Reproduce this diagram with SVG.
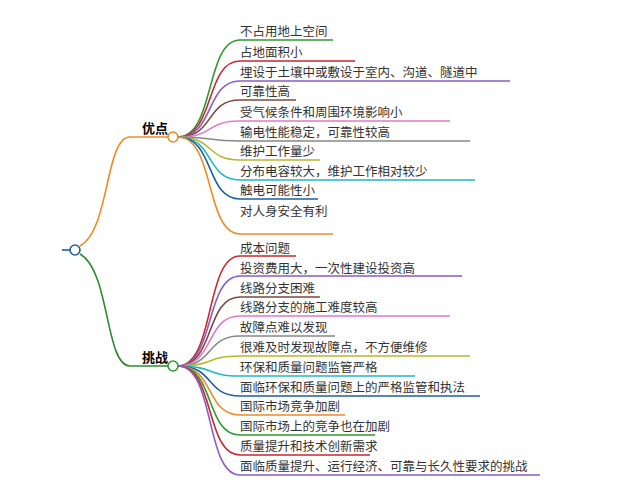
<svg xmlns="http://www.w3.org/2000/svg" width="631" height="500" viewBox="0 0 631 500">
<style>
text{font-family:"Noto Sans CJK SC","Liberation Sans",sans-serif;font-size:12.5px;fill:#333}
.b{font-weight:bold;fill:#000;font-size:13px}
path{fill:none;stroke-width:1.6}
circle{fill:#fff;stroke-width:1.6}
</style>
<rect width="631" height="500" fill="#fff"/>
<g id="connectors">
<path d="M62,250H70" stroke="#1f5fa0" stroke-width="3"/>
<path d="M80,246C110,230 105,137 130,137H168" stroke="#f08a24"/>
<path d="M80,254C110,270 105,366 130,366H168" stroke="#2e8b2e"/>
<path d="M178,137C215,137 205,40 240,40H333" stroke="#2e9b2e"/>
<path d="M178,137C215,137 205,61 240,61H355" stroke="#c8282e"/>
<path d="M178,137C215,137 205,81 240,81H510" stroke="#8a5cc4"/>
<path d="M178,137C215,137 205,100 240,100H296" stroke="#7a4a3c"/>
<path d="M178,137C215,137 205,121 240,121H450" stroke="#e07ac8"/>
<path d="M178,137C215,137 205,141 240,141H470" stroke="#888"/>
<path d="M178,137C215,137 205,160 240,160H320" stroke="#b8b830"/>
<path d="M178,137C215,137 205,180 240,180H475" stroke="#20b8c8"/>
<path d="M178,137C215,137 205,199 240,199H318" stroke="#1f5fa0"/>
<path d="M178,137C215,137 205,234 240,234H333" stroke="#f08a24"/>
<path d="M178,366C215,366 205,256 240,256H296" stroke="#c8282e"/>
<path d="M178,366C215,366 205,276 240,276H462" stroke="#8a5cc4"/>
<path d="M178,366C215,366 205,297 240,297H320" stroke="#7a4a3c"/>
<path d="M178,366C215,366 205,316 240,316H450" stroke="#e07ac8"/>
<path d="M178,366C215,366 205,336 240,336H335" stroke="#888"/>
<path d="M178,366C215,366 205,356 240,356H470" stroke="#b8b830"/>
<path d="M178,366C215,366 205,376 240,376H415" stroke="#20b8c8"/>
<path d="M178,366C215,366 205,396 240,396H480" stroke="#1f5fa0"/>
<path d="M178,366C215,366 205,415 240,415H345" stroke="#f08a24"/>
<path d="M178,366C215,366 205,435 240,435H375" stroke="#2e9b2e"/>
<path d="M178,366C215,366 205,455 240,455H370" stroke="#c8282e"/>
<path d="M178,366C215,366 205,475 240,475H540" stroke="#8a5cc4"/>
</g>
<g id="root"><circle cx="75" cy="250" r="5" stroke="#1f5fa0"/></g>
<g id="adv"><circle cx="173" cy="137" r="5" stroke="#f08a24"/><text class="b" x="142" y="133">优点</text></g>
<g id="chal"><circle cx="173" cy="366" r="5" stroke="#2e9b2e"/><text class="b" x="142" y="362">挑战</text></g>
<g id="advleaves">
<text x="240" y="36">不占用地上空间</text>
<text x="240" y="57">占地面积小</text>
<text x="240" y="77">埋设于土壤中或敷设于室内、沟道、隧道中</text>
<text x="240" y="96">可靠性高</text>
<text x="240" y="117">受气候条件和周围环境影响小</text>
<text x="240" y="137">输电性能稳定，可靠性较高</text>
<text x="240" y="156">维护工作量少</text>
<text x="240" y="176">分布电容较大，维护工作相对较少</text>
<text x="240" y="195">触电可能性小</text>
<text x="240" y="216">对人身安全有利</text>
</g>
<g id="challeaves">
<text x="240" y="253">成本问题</text>
<text x="240" y="273">投资费用大，一次性建设投资高</text>
<text x="240" y="293">线路分支困难</text>
<text x="240" y="312">线路分支的施工难度较高</text>
<text x="240" y="332">故障点难以发现</text>
<text x="240" y="352">很难及时发现故障点，不方便维修</text>
<text x="240" y="372">环保和质量问题监管严格</text>
<text x="240" y="392">面临环保和质量问题上的严格监管和执法</text>
<text x="240" y="411">国际市场竞争加剧</text>
<text x="240" y="431">国际市场上的竞争也在加剧</text>
<text x="240" y="451">质量提升和技术创新需求</text>
<text x="240" y="471">面临质量提升、运行经济、可靠与长久性要求的挑战</text>
</g>
</svg>
